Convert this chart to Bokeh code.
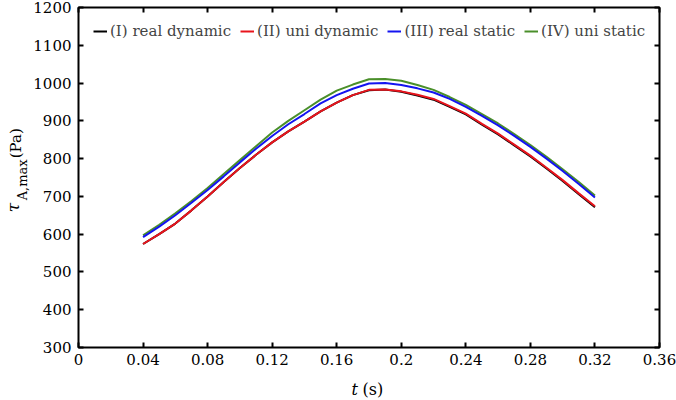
import math
from bokeh.plotting import figure
from bokeh.layouts import column, row
from bokeh.models import (Range1d, FixedTicker, LinearAxis, Legend, LegendItem, Label)
from bokeh.embed import file_html
from bokeh.resources import INLINE

# ---- data ----
t = [0.04, 0.05, 0.06, 0.07, 0.08, 0.09, 0.10, 0.11, 0.12, 0.13, 0.14, 0.15, 0.16, 0.17,
     0.18, 0.19, 0.20, 0.21, 0.22, 0.23, 0.24, 0.25, 0.26, 0.27, 0.28, 0.29, 0.30, 0.31, 0.32]
real_dynamic = [574, 600, 628, 663, 700, 738, 775, 810, 843, 872, 898, 925, 948, 968,
                981, 983, 977, 967, 956, 937, 917, 890, 864, 835, 806, 774, 741, 706, 671]
uni_dynamic = [574, 600, 628, 663, 700, 738, 775, 810, 843, 872, 898, 925, 948, 968,
               982, 983, 978, 969, 958, 939, 919, 892, 866, 837, 808, 776, 743, 708, 674]
real_static = [592, 620, 650, 683, 717, 753, 790, 826, 860, 891, 918, 946, 968, 985,
               999, 1000, 995, 986, 975, 958, 937, 913, 888, 860, 831, 800, 767, 733, 697]
uni_static = [597, 625, 655, 688, 722, 759, 796, 833, 869, 900, 928, 956, 980, 996,
              1010, 1011, 1006, 995, 982, 963, 942, 918, 893, 865, 836, 805, 772, 738, 702]

series_names = ["(I) real dynamic", "(II) uni dynamic", "(III) real static", "(IV) uni static"]
series_colors = ["#000000", "#e8141c", "#1414f0", "#4a8f2a"]

x_ticks = [0, 0.04, 0.08, 0.12, 0.16, 0.2, 0.24, 0.28, 0.32, 0.36]
x_tick_labels = ["0", "0.04", "0.08", "0.12", "0.16", "0.2", "0.24", "0.28", "0.32", "0.36"]
y_ticks = [300, 400, 500, 600, 700, 800, 900, 1000, 1100, 1200]
y_tick_labels = [str(v) for v in y_ticks]

FONT = "DejaVu Serif"
FS = "15px"

W, H = 676, 400
YLAB_W = 30
XLAB_H = 28
MAIN_W = W - YLAB_W
MAIN_H = H - XLAB_H

p = figure(width=MAIN_W, height=MAIN_H, output_backend="svg", toolbar_location=None,
           x_range=Range1d(0, 0.36), y_range=Range1d(300, 1200),
           min_border_left=77 - YLAB_W, min_border_right=17, min_border_top=7,
           min_border_bottom=MAIN_H - 347)
p.grid.visible = False
p.outline_line_color = "black"
p.outline_line_width = 2
p.background_fill_color = "white"
p.border_fill_color = "white"

def style_axis(ax, ticks, labels, show_labels=True):
    ax.ticker = FixedTicker(ticks=ticks)
    ax.major_label_overrides = {tk: lb for tk, lb in zip(ticks, labels)}
    ax.major_tick_in = 5
    ax.major_tick_out = 0
    ax.minor_tick_in = 0
    ax.minor_tick_out = 0
    ax.major_tick_line_color = "black"
    ax.major_tick_line_width = 2
    ax.axis_line_color = None
    ax.major_label_text_font = FONT
    ax.major_label_text_font_size = FS
    ax.major_label_text_color = "black" if show_labels else None
    ax.major_label_standoff = 6

style_axis(p.xaxis[0], x_ticks, x_tick_labels)
style_axis(p.yaxis[0], y_ticks, y_tick_labels)
p.yaxis[0].major_label_standoff = 7

top_ax = LinearAxis()
right_ax = LinearAxis()
style_axis(top_ax, x_ticks, x_tick_labels, show_labels=False)
style_axis(right_ax, y_ticks, y_tick_labels, show_labels=False)
p.add_layout(top_ax, "above")
p.add_layout(right_ax, "right")

ys = [real_dynamic, uni_dynamic, real_static, uni_static]
renderers = [None] * 4
for i in [3, 2, 0, 1]:
    renderers[i] = p.line(t, ys[i], line_color=series_colors[i], line_width=2)

legend = Legend(items=[LegendItem(label=n, renderers=[r]) for n, r in zip(series_names, renderers)],
                orientation="horizontal", location="top_left",
                label_text_font=FONT, label_text_font_size=FS,
                glyph_width=14, glyph_height=18, label_standoff=3, spacing=9,
                padding=5, margin=15, border_line_color=None,
                background_fill_alpha=0, label_height=18)
p.add_layout(legend, "center")

# ---- y-axis label panel ----
yl = figure(width=YLAB_W, height=MAIN_H, output_backend="svg", toolbar_location=None,
            x_range=Range1d(0, YLAB_W), y_range=Range1d(0, MAIN_H),
            x_axis_location=None, y_axis_location=None, min_border=0)
yl.grid.visible = False
yl.outline_line_color = None
yl.border_fill_color = "white"
yl.background_fill_color = "white"
yl.add_layout(Label(x=12, y=MAIN_H - 224, text="τ", angle=math.pi / 2, text_font=FONT,
                    text_font_size="17px", text_font_style="italic",
                    text_align="left", text_baseline="middle", text_color="black"))
yl.add_layout(Label(x=22, y=MAIN_H - 211, text="A,max", angle=math.pi / 2, text_font=FONT,
                    text_font_size="13px", text_align="left", text_baseline="middle",
                    text_color="black"))
yl.add_layout(Label(x=15, y=MAIN_H - 165, text="(Pa)", angle=math.pi / 2, text_font=FONT,
                    text_font_size="15px", text_align="left", text_baseline="middle",
                    text_color="black"))

# ---- x-axis label panel ----
xl = figure(width=W, height=XLAB_H, output_backend="svg", toolbar_location=None,
            x_range=Range1d(0, W), y_range=Range1d(0, XLAB_H),
            x_axis_location=None, y_axis_location=None, min_border=0)
xl.grid.visible = False
xl.outline_line_color = None
xl.border_fill_color = "white"
xl.background_fill_color = "white"
xl.add_layout(Label(x=351, y=XLAB_H - 17, text="t", text_font=FONT,
                    text_font_size="16px", text_font_style="italic",
                    text_align="left", text_baseline="middle", text_color="black"))
xl.add_layout(Label(x=362, y=XLAB_H - 17, text="(s)", text_font=FONT,
                    text_font_size="16px", text_align="left", text_baseline="middle",
                    text_color="black"))

layout = column(row(yl, p, spacing=0), xl, spacing=0)
open("out.html", "w").write(file_html(layout, INLINE))
